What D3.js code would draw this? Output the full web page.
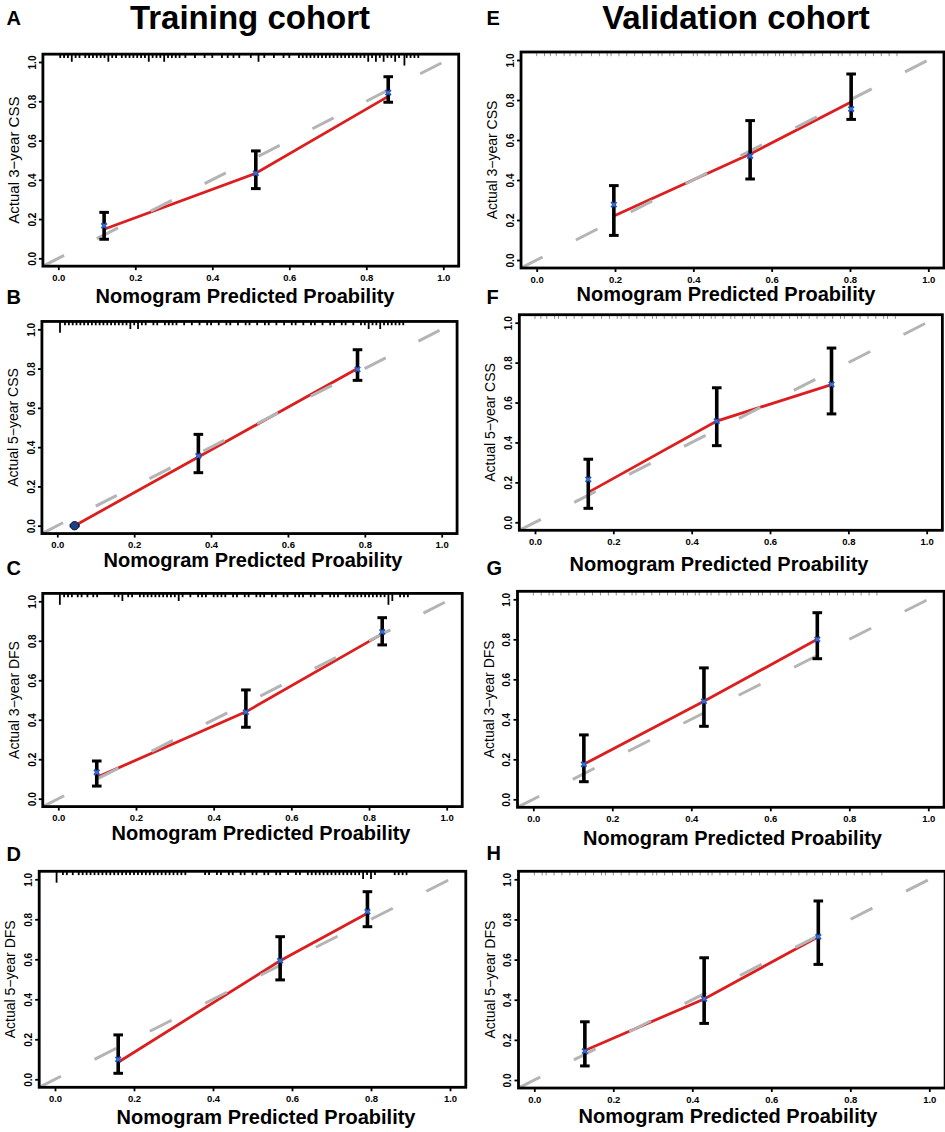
<!DOCTYPE html>
<html>
<head>
<meta charset="utf-8">
<script src="https://cdn.jsdelivr.net/npm/d3@7"></script>
<style>
	body { margin: 0; background: #fff; }
	svg { display: block; font-family: "Liberation Sans", Arial, Helvetica, sans-serif; }
</style>
</head>
<body>
<svg id="chart" width="945" height="1132"></svg>
<script>
/* global d3 */

'use strict';

//////////////////////////////////////////////////
// Data.
//////////////////////////////////////////////////

var panelIds = ["A", "B", "C", "D", "E", "F", "G", "H"];
var cohortTitles = ["Training cohort", "Validation cohort"];
var yTitles = ["Actual 3\u2212year CSS", "Actual 5\u2212year CSS", "Actual 3\u2212year DFS", "Actual 5\u2212year DFS",
	"Actual 3\u2212year CSS", "Actual 5\u2212year CSS", "Actual 3\u2212year DFS", "Actual 5\u2212year DFS"];
var xTitle = "Nomogram Predicted Proability";
var tickValues = [0, 0.2, 0.4, 0.6, 0.8, 1.0];

// Mean predicted probability of each group (x of the blue marks).
var predicted = [
	[0.119, 0.513, 0.857],
	[0.045, 0.367, 0.781],
	[0.099, 0.483, 0.834],
	[0.160, 0.570, 0.791],
	[0.197, 0.545, 0.803],
	[0.136, 0.464, 0.757],
	[0.128, 0.432, 0.719],
	[0.128, 0.430, 0.719]
];

// Observed (Kaplan-Meier) probability of each group.
var observed = [
	[0.166, 0.433, 0.844],
	[0.000, 0.356, 0.796],
	[0.134, 0.438, 0.845],
	[0.100, 0.593, 0.838],
	[0.277, 0.520, 0.755],
	[0.215, 0.507, 0.691],
	[0.175, 0.490, 0.800],
	[0.144, 0.404, 0.714]
];

var lowerCI = [
	[0.097, 0.355, 0.795],
	[0.000, 0.270, 0.740],
	[0.064, 0.362, 0.779],
	[0.030, 0.497, 0.763],
	[0.123, 0.405, 0.703],
	[0.070, 0.384, 0.543],
	[0.088, 0.365, 0.703],
	[0.070, 0.282, 0.576]
];

var upperCI = [
	[0.234, 0.547, 0.925],
	[0.000, 0.465, 0.896],
	[0.191, 0.551, 0.917],
	[0.222, 0.713, 0.938],
	[0.372, 0.697, 0.930],
	[0.316, 0.674, 0.873],
	[0.322, 0.657, 0.933],
	[0.290, 0.609, 0.892]
];

// Red (bias-corrected) curve, given at the same predicted points.
var fitted = [
	[0.148, 0.433, 0.825],
	[0.000, 0.350, 0.800],
	[0.108, 0.440, 0.835],
	[0.085, 0.593, 0.830],
	[0.220, 0.530, 0.790],
	[0.150, 0.507, 0.690],
	[0.175, 0.490, 0.800],
	[0.147, 0.404, 0.714]
];

// Spike histograms of the predictions along the top edge: [x, count].
var rugTraining = [
	[[0.005,1],[0.015,1],[0.025,1],[0.035,2],[0.045,1],[0.055,1],[0.07,1],[0.08,1],[0.09,1],[0.10,1],[0.11,1],[0.12,1],
	 [0.13,2],[0.14,1],[0.15,1],[0.165,1],[0.175,1],[0.185,1],[0.195,1],[0.205,1],[0.215,1],[0.225,1],[0.235,2],[0.245,1],
	 [0.255,1],[0.265,1],[0.275,2],[0.285,1],[0.295,1],[0.305,1],[0.315,1],[0.33,1],[0.355,1],[0.38,1],[0.40,1],[0.425,1],
	 [0.44,1],[0.455,1],[0.47,1],[0.50,1],[0.52,2],[0.535,1],[0.56,1],[0.585,1],[0.60,1],[0.625,1],[0.635,1],[0.645,1],
	 [0.655,1],[0.665,1],[0.675,1],[0.685,1],[0.695,1],[0.705,1],[0.715,1],[0.725,1],[0.735,1],[0.745,1],[0.755,1],
	 [0.765,1],[0.775,1],[0.785,1],[0.795,1],[0.805,2],[0.815,1],[0.825,2],[0.835,1],[0.845,2],[0.855,1],[0.865,1],
	 [0.875,2],[0.885,1],[0.899,3],[0.905,1],[0.915,1],[0.925,1],[0.935,1]],
	[[0.007,3],[0.02,1],[0.03,1],[0.04,1],[0.05,1],[0.06,1],[0.07,1],[0.08,1],[0.09,1],[0.10,1],[0.11,1],[0.12,1],
	 [0.13,1],[0.14,1],[0.15,1],[0.16,1],[0.17,1],[0.18,1],[0.19,2],[0.20,1],[0.21,2],[0.22,1],[0.23,1],[0.25,1],
	 [0.26,1],[0.28,1],[0.29,1],[0.30,1],[0.31,1],[0.33,1],[0.35,1],[0.37,1],[0.39,1],[0.40,1],[0.42,1],[0.44,1],
	 [0.45,1],[0.47,1],[0.49,1],[0.50,1],[0.52,1],[0.54,1],[0.55,1],[0.57,1],[0.59,1],[0.61,1],[0.62,1],[0.64,1],
	 [0.66,1],[0.67,1],[0.69,1],[0.71,1],[0.72,1],[0.74,1],[0.75,1],[0.77,1],[0.79,1],[0.80,1],[0.81,2],[0.82,1],
	 [0.83,1],[0.84,2],[0.85,1],[0.86,1],[0.87,1],[0.88,1],[0.89,1],[0.90,1]],
	[[0.004,3],[0.015,1],[0.025,1],[0.035,1],[0.05,1],[0.06,1],[0.075,1],[0.09,1],[0.10,1],[0.145,1],[0.155,1],[0.165,2],
	 [0.18,1],[0.19,1],[0.21,1],[0.22,1],[0.23,1],[0.24,1],[0.25,1],[0.26,1],[0.27,1],[0.28,1],[0.29,1],[0.30,1],
	 [0.31,2],[0.32,1],[0.34,1],[0.36,1],[0.37,1],[0.38,1],[0.40,1],[0.41,1],[0.42,1],[0.43,1],[0.45,1],[0.46,1],
	 [0.48,1],[0.49,1],[0.51,1],[0.52,1],[0.53,1],[0.55,1],[0.56,1],[0.58,1],[0.59,1],[0.61,1],[0.62,1],[0.63,1],
	 [0.65,1],[0.66,1],[0.68,1],[0.70,1],[0.71,1],[0.72,1],[0.74,1],[0.75,1],[0.76,1],[0.77,1],[0.78,1],[0.79,1],
	 [0.80,1],[0.81,1],[0.82,1],[0.83,1],[0.84,1],[0.85,3],[0.86,2],[0.88,1],[0.89,1],[0.90,1]],
	[[0.004,3],[0.02,1],[0.03,1],[0.045,1],[0.06,1],[0.07,1],[0.08,1],[0.09,1],[0.10,1],[0.11,1],[0.12,1],[0.13,1],
	 [0.14,1],[0.15,1],[0.16,1],[0.17,1],[0.18,1],[0.19,1],[0.20,1],[0.21,1],[0.22,1],[0.23,1],[0.24,1],[0.25,1],
	 [0.26,1],[0.27,1],[0.28,1],[0.29,1],[0.30,1],[0.31,1],[0.32,1],[0.33,1],[0.38,1],[0.39,1],[0.41,1],[0.42,1],
	 [0.44,1],[0.45,1],[0.47,1],[0.48,1],[0.50,1],[0.51,1],[0.53,1],[0.54,1],[0.56,1],[0.57,1],[0.59,1],[0.61,1],
	 [0.62,1],[0.64,1],[0.65,1],[0.66,1],[0.67,1],[0.68,1],[0.69,1],[0.70,1],[0.71,1],[0.72,1],[0.73,1],[0.74,1],
	 [0.75,1],[0.76,1],[0.77,1],[0.78,2],[0.79,1],[0.80,2],[0.81,1],[0.86,1],[0.87,1],[0.88,1],[0.89,1]]
];

var rugValidation = [
	[0.00,0.02,0.035,0.05,0.07,0.085,0.10,0.115,0.14,0.16,0.18,0.19,0.21,0.23,0.25,0.27,0.29,0.31,0.32,0.34,0.35,0.37,
	 0.40,0.41,0.43,0.44,0.46,0.47,0.49,0.50,0.52,0.53,0.55,0.56,0.58,0.59,0.61,0.62,0.63,0.65,0.66,0.68,0.70,0.71,
	 0.73,0.75,0.77,0.78,0.80,0.82,0.84,0.86,0.88,0.90,0.92],
	[0.00,0.015,0.03,0.05,0.06,0.08,0.10,0.12,0.15,0.17,0.19,0.21,0.22,0.24,0.26,0.28,0.30,0.31,0.33,0.35,0.36,0.38,
	 0.40,0.42,0.43,0.45,0.46,0.48,0.50,0.51,0.53,0.55,0.56,0.58,0.60,0.61,0.63,0.65,0.67,0.68,0.70,0.72,0.74,0.76,
	 0.78,0.79,0.81,0.83,0.85,0.87,0.89,0.90,0.92],
	[0.00,0.02,0.04,0.05,0.07,0.09,0.11,0.13,0.15,0.17,0.19,0.21,0.23,0.25,0.26,0.28,0.30,0.32,0.34,0.36,0.38,0.39,
	 0.41,0.42,0.44,0.45,0.47,0.49,0.50,0.52,0.53,0.55,0.57,0.58,0.60,0.62,0.63,0.65,0.67,0.69,0.71,0.73,0.75,0.77,
	 0.79,0.81,0.83,0.85,0.87],
	[0.00,0.02,0.03,0.05,0.07,0.09,0.11,0.13,0.15,0.17,0.18,0.20,0.22,0.24,0.26,0.28,0.30,0.31,0.33,0.35,0.37,0.39,
	 0.40,0.42,0.44,0.45,0.47,0.49,0.51,0.53,0.55,0.57,0.59,0.61,0.63,0.65,0.67,0.69,0.71,0.73,0.75,0.77,0.79,0.81,
	 0.83,0.85,0.88]
];

//////////////////////////////////////////////////
// Page layout (pixel position of 0 and 1 on each axis, label anchors).
//////////////////////////////////////////////////

var frames = [
	{x0: 58.3, x1: 443.3, y0: 258.3, y1: 62, lx: 6.5, ly: 25, tx: 245, ty: 303.3, yFont: 15},
	{x0: 57.3, x1: 441.7, y0: 525.7, y1: 329.3, lx: 6.5, ly: 304, tx: 253, ty: 566.5, yFont: 14},
	{x0: 58.3, x1: 446.7, y0: 798.7, y1: 601.3, lx: 6.5, ly: 575, tx: 261, ty: 839.5, yFont: 14},
	{x0: 55, x1: 450, y0: 1079.3, y1: 879.3, lx: 6.5, ly: 860.5, tx: 266, ty: 1123.5, yFont: 14},
	{x0: 536.7, x1: 928.3, y0: 260, y1: 60, lx: 486.5, ly: 25, tx: 726, ty: 301, yFont: 14},
	{x0: 535, x1: 926.7, y0: 522.3, y1: 322.7, lx: 486.5, ly: 303.5, tx: 719, ty: 571, yFont: 14},
	{x0: 533.3, x1: 928.3, y0: 799.3, y1: 599.3, lx: 486.5, ly: 575, tx: 732.5, ty: 844.5, yFont: 14},
	{x0: 534.3, x1: 929.3, y0: 1080, y1: 879.3, lx: 486.5, ly: 860, tx: 728, ty: 1122.5, yFont: 14}
];

var svg = d3.select("#chart");
var ext = 0.04;	// R-style 4% axis extension.

// Column titles.
svg.selectAll("text.cohort").data(cohortTitles)
		.enter().append("text")
		.attr("class", "cohort")
		.attr("x", function(d, i) { return i === 0 ? 250 : 736; })
		.attr("y", 29)
		.attr("text-anchor", "middle")
		.attr("font-size", 33)
		.attr("font-weight", "bold")
		.text(function(d) { return d; });

/**
 * Draws one calibration panel.
 *
 * @param {Number} p Index of the panel (0..7).
 * @returns {undefined}
 */
function drawPanel(p) {
	var f = frames[p];
	var isTraining = p < 4;
	var x = d3.scaleLinear().domain([0, 1]).range([f.x0, f.x1]);
	var y = d3.scaleLinear().domain([0, 1]).range([f.y0, f.y1]);
	var left = x(-ext), right = x(1 + ext), top = y(1 + ext), bottom = y(-ext);

	var g = svg.append("g").attr("class", "panel panel" + panelIds[p]);

	g.append("clipPath")
			.attr("id", "clip" + p)
			.append("rect")
			.attr("x", left)
			.attr("y", top)
			.attr("width", right - left)
			.attr("height", bottom - top);

	// Panel letter.
	g.append("text")
			.attr("x", f.lx)
			.attr("y", f.ly)
			.attr("font-size", 20)
			.attr("font-weight", "bold")
			.text(panelIds[p]);

	// Spike histogram of the predictions.
	var spikes = isTraining ? rugTraining[p] : rugValidation[p - 4].map(function(v) { return [v, 1]; });
	var spikeLen = d3.scaleLinear().domain([0, 1]).range([0, isTraining ? 3.8 : 4.2]);
	g.append("g").selectAll("line").data(spikes)
			.enter().append("line")
			.attr("x1", function(d) { return x(d[0]); })
			.attr("x2", function(d) { return x(d[0]); })
			.attr("y1", top)
			.attr("y2", function(d) { return top + spikeLen(d[1]); })
			.attr("stroke", isTraining ? "#000" : "#8f8f8f")
			.attr("stroke-width", isTraining ? 1.8 : 1);

	// Red calibration curve.
	var pts = d3.zip(predicted[p], fitted[p]);
	g.append("path")
			.datum(pts)
			.attr("fill", "none")
			.attr("stroke", "#dc1e1e")
			.attr("stroke-width", 2.8)
			.attr("d", d3.line().x(function(d) { return x(d[0]); }).y(function(d) { return y(d[1]); }));

	// Ideal (diagonal) dashed line, clipped to the box.
	var unitLen = Math.sqrt(Math.pow(f.x1 - f.x0, 2) + Math.pow(f.y0 - f.y1, 2));
	g.append("line")
			.attr("clip-path", "url(#clip" + p + ")")
			.attr("x1", x(-ext))
			.attr("y1", y(-ext))
			.attr("x2", x(1 + ext))
			.attr("y2", y(1 + ext))
			.attr("stroke", "#b4b4b4")
			.attr("stroke-width", 3)
			.attr("stroke-dasharray", (0.055 * unitLen).toFixed(1) + " " + (0.085 * unitLen).toFixed(1));

	// Error bars.
	var bars = d3.range(predicted[p].length).map(function(i) {
		return {x: predicted[p][i], obs: observed[p][i], lo: lowerCI[p][i], hi: upperCI[p][i]};
	});
	var gBars = g.append("g").selectAll("g").data(bars).enter().append("g");
	gBars.append("line")
			.attr("x1", function(d) { return x(d.x); })
			.attr("x2", function(d) { return x(d.x); })
			.attr("y1", function(d) { return y(d.lo); })
			.attr("y2", function(d) { return y(d.hi); })
			.attr("stroke", "#000")
			.attr("stroke-width", 3.6);
	["lo", "hi"].forEach(function(k) {
		gBars.append("line")
				.attr("x1", function(d) { return x(d.x) - 4.8; })
				.attr("x2", function(d) { return x(d.x) + 4.8; })
				.attr("y1", function(d) { return y(d[k]); })
				.attr("y2", function(d) { return y(d[k]); })
				.attr("stroke", "#000")
				.attr("stroke-width", 3);
	});

	// Blue marks; a collapsed interval shows as a dark dot.
	gBars.each(function(d) {
		var cx = x(d.x), cy = y(d.obs);
		var sel = d3.select(this);
		if (d.hi - d.lo < 0.005) {
			sel.append("circle")
					.attr("cx", cx)
					.attr("cy", cy)
					.attr("r", 4.2)
					.attr("fill", "#1d3f86")
					.attr("stroke", "#0b1a40")
					.attr("stroke-width", 1);
		} else {
			sel.append("path")
					.attr("d", "M" + (cx - 2.6) + "," + (cy - 2.6) + "L" + (cx + 2.6) + "," + (cy + 2.6) +
							"M" + (cx - 2.6) + "," + (cy + 2.6) + "L" + (cx + 2.6) + "," + (cy - 2.6))
					.attr("stroke", "#2656bb")
					.attr("stroke-width", 2.2);
			sel.append("circle")
					.attr("cx", cx)
					.attr("cy", cy)
					.attr("r", 1.6)
					.attr("fill", "#3a6fd0");
		}
	});

	// X axis.
	var xAxis = g.append("g")
			.attr("transform", "translate(0," + bottom + ")")
			.call(d3.axisBottom(x).tickValues(tickValues).tickSize(4).tickFormat(d3.format(".1f")));
	xAxis.select(".domain").remove();
	xAxis.selectAll(".tick line").attr("stroke", "#000").attr("stroke-width", 1.8);
	xAxis.selectAll(".tick text")
			.attr("y", 14.5)
			.attr("dy", null)
			.attr("fill", "#000")
			.attr("font-size", 9.5)
			.attr("font-weight", "bold")
			.attr("font-family", null);

	// Y axis, labels parallel to the axis.
	var yAxis = g.append("g")
			.attr("transform", "translate(" + left + ",0)")
			.call(d3.axisLeft(y).tickValues(tickValues).tickSize(4).tickFormat(d3.format(".1f")));
	yAxis.select(".domain").remove();
	yAxis.selectAll(".tick line").attr("stroke", "#000").attr("stroke-width", 1.8);
	yAxis.selectAll(".tick text")
			.attr("x", null)
			.attr("dy", null)
			.attr("text-anchor", "middle")
			.attr("transform", "translate(-7.2,0) rotate(-90)")
			.attr("fill", "#000")
			.attr("font-size", 10)
			.attr("font-weight", "bold")
			.attr("font-family", null);

	// Box.
	g.append("rect")
			.attr("x", left)
			.attr("y", top)
			.attr("width", right - left)
			.attr("height", bottom - top)
			.attr("fill", "none")
			.attr("stroke", "#000")
			.attr("stroke-width", 2.8);

	// Axis titles.
	g.append("text")
			.attr("x", f.tx)
			.attr("y", f.ty)
			.attr("text-anchor", "middle")
			.attr("font-size", 20)
			.attr("font-weight", "bold")
			.text(xTitle);

	g.append("text")
			.attr("transform", "translate(" + (left - 24) + "," + y(0.5) + ") rotate(-90)")
			.attr("text-anchor", "middle")
			.attr("font-size", f.yFont)
			.text(yTitles[p]);
}

panelIds.forEach(function(id, p) {
	drawPanel(p);
});
</script>
</body>
</html>
